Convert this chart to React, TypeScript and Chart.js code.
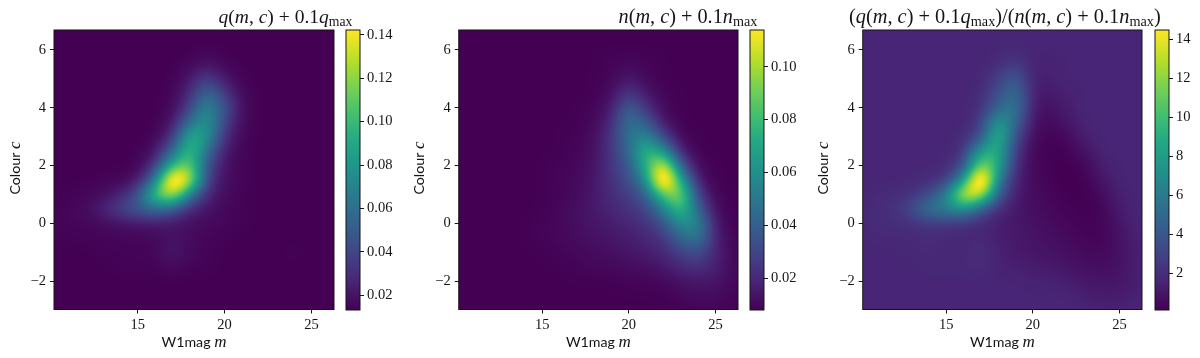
import React, { useEffect, useRef } from "react";
import { Chart, registerables } from "chart.js";
Chart.register(...registerables);

// ---------- data ----------
const massGrid = [10, 11, 12, 13, 14, 15, 16, 17, 18, 19, 20, 21, 22, 23, 24, 25, 26, 27];
const colourGrid = [7, 6.5, 6, 5.5, 5, 4.5, 4, 3.5, 3, 2.5, 2, 1.5, 1, 0.5, 0, -0.5, -1, -1.5, -2, -2.5, -3];
const massTicks = [15, 20, 25];
const colourTicks = [-2, 0, 2, 4, 6];

// q(m,c)+0.1qmax, in units of 0.001
const qValues = [
  [13, 13, 13, 13, 13, 13, 13, 13, 13, 13, 13, 13, 13, 13, 13, 13, 13, 13],
  [13, 13, 13, 13, 13, 13, 13, 13, 13, 13, 13, 13, 13, 13, 13, 13, 13, 13],
  [13, 13, 13, 13, 13, 13, 13, 13, 13, 14, 13, 13, 13, 13, 13, 13, 13, 13],
  [13, 13, 13, 13, 13, 13, 13, 13, 15, 20, 15, 13, 13, 13, 13, 13, 13, 13],
  [13, 13, 13, 13, 13, 13, 13, 13, 21, 38, 21, 14, 13, 13, 13, 13, 13, 13],
  [13, 13, 13, 13, 13, 13, 13, 14, 27, 60, 34, 15, 13, 13, 13, 13, 13, 13],
  [13, 13, 13, 13, 13, 13, 13, 15, 38, 78, 46, 17, 13, 13, 13, 13, 13, 13],
  [13, 13, 13, 13, 13, 13, 13, 19, 60, 84, 38, 16, 13, 13, 13, 13, 13, 13],
  [13, 13, 13, 13, 13, 13, 14, 30, 98, 82, 28, 15, 13, 13, 13, 13, 13, 13],
  [13, 13, 13, 13, 13, 13, 18, 55, 108, 60, 22, 14, 13, 13, 13, 13, 13, 13],
  [13, 13, 13, 13, 13, 14, 30, 100, 118, 42, 19, 14, 13, 13, 13, 13, 13, 13],
  [13, 13, 13, 14, 15, 19, 62, 175, 140, 35, 18, 14, 13, 13, 13, 13, 13, 13],
  [13, 14, 15, 17, 24, 44, 110, 140, 66, 26, 17, 14, 13, 13, 13, 13, 13, 13],
  [13, 15, 17, 25, 40, 50, 60, 48, 26, 20, 15, 14, 13, 13, 13, 13, 13, 13],
  [14, 15, 15, 17, 18, 20, 20, 20, 18, 16, 15, 14, 13, 13, 13, 13, 13, 13],
  [13, 14, 14, 14, 15, 15, 16, 20, 16, 15, 14, 13, 13, 13, 13, 13, 13, 13],
  [13, 13, 13, 14, 14, 14, 15, 22, 16, 14, 13, 13, 13, 13, 14, 13, 13, 13],
  [13, 13, 13, 13, 14, 14, 14, 17, 14, 14, 13, 13, 13, 13, 13, 13, 13, 13],
  [13, 13, 13, 13, 13, 13, 13, 13, 13, 13, 13, 13, 13, 13, 13, 13, 13, 13],
  [13, 13, 13, 13, 13, 13, 13, 13, 13, 13, 13, 13, 13, 13, 13, 13, 13, 13],
  [13, 13, 13, 13, 13, 13, 13, 13, 13, 13, 13, 13, 13, 13, 13, 13, 13, 13],
];

// n(m,c)+0.1nmax, in units of 0.001
const nValues = [
  [8, 8, 8, 8, 8, 8, 8, 8, 8, 8, 8, 8, 8, 8, 8, 8, 8, 8],
  [8, 8, 8, 8, 8, 8, 8, 8, 8, 8, 8, 8, 8, 8, 8, 8, 8, 8],
  [8, 8, 8, 8, 8, 8, 8, 8, 8, 8, 8, 8, 8, 8, 8, 8, 8, 8],
  [8, 8, 8, 8, 8, 8, 8, 8, 8, 9, 10, 9, 8, 8, 8, 8, 8, 8],
  [8, 8, 8, 8, 8, 8, 8, 8, 8, 9, 16, 10, 8, 8, 8, 8, 8, 8],
  [8, 8, 8, 8, 8, 8, 8, 8, 8, 11, 26, 14, 9, 8, 8, 8, 8, 8],
  [8, 8, 8, 8, 8, 8, 8, 8, 9, 15, 42, 23, 10, 8, 8, 8, 8, 8],
  [8, 8, 8, 8, 8, 8, 8, 8, 10, 19, 50, 38, 13, 8, 8, 8, 8, 8],
  [8, 8, 8, 8, 8, 8, 8, 9, 11, 24, 48, 60, 30, 9, 8, 8, 8, 8],
  [8, 8, 8, 8, 8, 8, 8, 9, 12, 24, 42, 82, 62, 16, 8, 8, 8, 8],
  [8, 8, 8, 8, 8, 8, 9, 10, 13, 24, 37, 75, 120, 36, 10, 8, 8, 8],
  [8, 8, 8, 8, 8, 8, 9, 10, 14, 23, 32, 58, 150, 70, 14, 8, 8, 8],
  [8, 8, 8, 8, 8, 8, 9, 11, 15, 21, 27, 38, 90, 100, 26, 9, 8, 8],
  [8, 8, 8, 8, 8, 8, 10, 12, 15, 19, 23, 29, 52, 88, 40, 11, 8, 8],
  [8, 8, 8, 8, 8, 9, 10, 12, 14, 16, 19, 23, 33, 62, 58, 14, 8, 8],
  [8, 8, 8, 8, 8, 9, 10, 11, 13, 14, 16, 19, 24, 42, 52, 17, 9, 8],
  [8, 8, 8, 8, 8, 8, 9, 10, 11, 12, 14, 16, 19, 28, 34, 18, 10, 8],
  [8, 8, 8, 8, 8, 8, 8, 9, 10, 10, 11, 12, 15, 19, 23, 17, 10, 8],
  [8, 8, 8, 8, 8, 8, 8, 8, 8, 8, 9, 9, 10, 13, 15, 14, 10, 8],
  [8, 8, 8, 8, 8, 8, 8, 8, 8, 8, 8, 8, 8, 10, 11, 11, 9, 8],
  [8, 8, 8, 8, 8, 8, 8, 8, 8, 8, 8, 8, 8, 8, 9, 9, 8, 8],
];

// (q+0.1qmax)/(n+0.1nmax)
const ratioValues = [
  [1.6, 1.6, 1.6, 1.6, 1.6, 1.6, 1.6, 1.6, 1.6, 1.6, 1.6, 1.6, 1.6, 1.6, 1.6, 1.6, 1.6, 1.6],
  [1.6, 1.6, 1.6, 1.6, 1.6, 1.6, 1.6, 1.6, 1.6, 1.6, 1.6, 1.6, 1.6, 1.6, 1.6, 1.6, 1.6, 1.6],
  [1.6, 1.6, 1.6, 1.6, 1.6, 1.6, 1.6, 1.6, 1.7, 1.8, 1.6, 1.6, 1.6, 1.6, 1.6, 1.6, 1.6, 1.6],
  [1.6, 1.6, 1.6, 1.6, 1.6, 1.6, 1.6, 1.6, 1.9, 2.6, 1.5, 1.4, 1.6, 1.6, 1.6, 1.6, 1.6, 1.6],
  [1.6, 1.6, 1.6, 1.6, 1.6, 1.6, 1.6, 1.6, 2.8, 4.5, 1.3, 1.4, 1.6, 1.6, 1.6, 1.6, 1.6, 1.6],
  [1.6, 1.6, 1.6, 1.6, 1.6, 1.6, 1.6, 1.75, 3.5, 5.6, 1.2, 1.1, 1.4, 1.6, 1.6, 1.6, 1.6, 1.6],
  [1.6, 1.6, 1.6, 1.6, 1.6, 1.6, 1.6, 1.9, 4.8, 6.2, 1.0, 0.7, 1.3, 1.6, 1.6, 1.6, 1.6, 1.6],
  [1.6, 1.6, 1.6, 1.6, 1.6, 1.6, 1.6, 2.4, 8.5, 5.0, 0.7, 0.4, 1.0, 1.6, 1.6, 1.6, 1.6, 1.6],
  [1.6, 1.6, 1.6, 1.6, 1.6, 1.6, 1.75, 3.2, 10.5, 3.2, 0.5, 0.2, 0.4, 1.44, 1.6, 1.6, 1.6, 1.6],
  [1.6, 1.6, 1.6, 1.6, 1.6, 1.6, 2.0, 8.5, 9.5, 2.3, 0.4, 0.12, 0.16, 0.8, 1.6, 1.6, 1.6, 1.6],
  [1.6, 1.6, 1.6, 1.6, 1.6, 1.75, 3.0, 12.5, 9.0, 1.7, 0.4, 0.12, 0.08, 0.3, 1.3, 1.6, 1.6, 1.6],
  [1.6, 1.6, 1.6, 1.7, 1.9, 2.4, 7.0, 20.0, 6.0, 1.4, 0.5, 0.2, 0.05, 0.12, 0.93, 1.6, 1.6, 1.6],
  [1.6, 1.75, 1.9, 2.1, 3.2, 6.0, 15.0, 14.0, 4.0, 1.2, 0.55, 0.3, 0.1, 0.08, 0.45, 1.4, 1.6, 1.6],
  [1.6, 1.9, 2.1, 3.3, 6.0, 6.5, 7.5, 4.0, 1.8, 1.05, 0.6, 0.42, 0.2, 0.1, 0.28, 1.2, 1.6, 1.6],
  [1.7, 1.9, 1.9, 2.1, 2.2, 2.3, 2.0, 1.7, 1.3, 1.0, 0.79, 0.55, 0.35, 0.16, 0.2, 0.93, 1.6, 1.6],
  [1.6, 1.75, 1.75, 1.75, 1.9, 1.7, 1.6, 1.8, 1.25, 1.07, 0.88, 0.7, 0.5, 0.3, 0.24, 0.76, 1.45, 1.6],
  [1.6, 1.6, 1.6, 1.75, 1.75, 1.75, 1.65, 2.1, 1.45, 1.15, 0.93, 0.8, 0.68, 0.45, 0.4, 0.76, 1.3, 1.6],
  [1.6, 1.6, 1.6, 1.6, 1.75, 1.75, 1.75, 1.9, 1.4, 1.4, 1.2, 1.1, 0.87, 0.68, 0.6, 0.8, 1.3, 1.6],
  [1.6, 1.6, 1.6, 1.6, 1.6, 1.6, 1.6, 1.6, 1.6, 1.6, 1.45, 1.45, 1.3, 1.0, 0.87, 0.93, 1.3, 1.6],
  [1.6, 1.6, 1.6, 1.6, 1.6, 1.6, 1.6, 1.6, 1.6, 1.6, 1.6, 1.6, 1.6, 1.3, 1.18, 1.18, 1.45, 1.6],
  [1.6, 1.6, 1.6, 1.6, 1.6, 1.6, 1.6, 1.6, 1.6, 1.6, 1.6, 1.6, 1.6, 1.6, 1.45, 1.45, 1.6, 1.6],
];

const qColourbarTicks = [0.02, 0.04, 0.06, 0.08, 0.1, 0.12, 0.14];
const nColourbarTicks = [0.02, 0.04, 0.06, 0.08, 0.1];
const ratioColourbarTicks = [2, 4, 6, 8, 10, 12, 14];

const qTitle = [["q", "i"], ["(", "r"], ["m", "i"], [", ", "r"], ["c", "i"], [") + 0.1", "r"], ["q", "i"], ["max", "s"]];
const nTitle = [["n", "i"], ["(", "r"], ["m", "i"], [", ", "r"], ["c", "i"], [") + 0.1", "r"], ["n", "i"], ["max", "s"]];
const ratioTitle = [
  ["(", "r"], ["q", "i"], ["(", "r"], ["m", "i"], [", ", "r"], ["c", "i"], [") + 0.1", "r"], ["q", "i"], ["max", "s"],
  [")/(", "r"], ["n", "i"], ["(", "r"], ["m", "i"], [", ", "r"], ["c", "i"], [") + 0.1", "r"], ["n", "i"], ["max", "s"], [")", "r"],
];
const xLabel = [["W1mag ", "l"], ["m", "li"]];
const yLabel = [["Colour ", "l"], ["c", "li"]];

const viridis = ["#440154", "#482475", "#414487", "#355f8d", "#2a788e", "#21918c", "#22a884", "#44bf70", "#7ad151", "#bddf26", "#fde725"];

// ---------- layout ----------
const INK = "#151515";
const SERIF = "'Liberation Serif'";
const SANS = "Lato";
const LABEL_SIZE = 14.2;
const massRange = [10.18, 26.3];
const colourRange = [-2.98, 6.69];

const panels = [
  { left: 0, axisLeft: 54, axisRight: 334, barLeft: 346, grid: qValues, scale: 0.001, min: 0.0131, max: 0.1423, ticks: qColourbarTicks, digits: 2, title: qTitle, titleRight: 352.5, titleWidth: 134 },
  { left: 400, axisLeft: 458.7, axisRight: 738, barLeft: 750.3, grid: nValues, scale: 0.001, min: 0.0079, max: 0.1139, ticks: nColourbarTicks, digits: 2, title: nTitle, titleRight: 757.5, titleWidth: 139 },
  { left: 800, axisLeft: 862.7, axisRight: 1142, barLeft: 1155, grid: ratioValues, scale: 1, min: 0.116, max: 14.48, ticks: ratioColourbarTicks, digits: 0, title: ratioTitle, titleRight: 1161, titleWidth: 312 },
];
const AXIS_TOP = 30;
const AXIS_BOTTOM = 309.5;

// ---------- helpers ----------
function hex(c: string) {
  return [1, 3, 5].map((i) => parseInt(c.slice(i, i + 2), 16));
}
const viridisRgb = viridis.map(hex);
function colourAt(t: number) {
  const f = Math.min(1, Math.max(0, t)) * (viridisRgb.length - 1);
  const i = Math.min(viridisRgb.length - 2, Math.floor(f));
  const u = f - i;
  return viridisRgb[i].map((a, k) => a + (viridisRgb[i + 1][k] - a) * u);
}
// smooth image-style resampling of the grid (cubic B-spline kernel)
function cubic(a: number, b: number, c: number, d: number, t: number) {
  const t2 = t * t;
  const t3 = t2 * t;
  return (
    (a * (1 - t) ** 3 + b * (4 - 6 * t2 + 3 * t3) + c * (1 + 3 * t + 3 * t2 - 3 * t3) + d * t3) / 6
  );
}
function sample(grid: number[][], m: number, c: number) {
  const fx = m - massGrid[0];
  const fy = (colourGrid[0] - c) / (colourGrid[0] - colourGrid[1]);
  const ix = Math.floor(fx);
  const iy = Math.floor(fy);
  const at = (x: number, y: number) =>
    grid[Math.min(grid.length - 1, Math.max(0, y))][Math.min(massGrid.length - 1, Math.max(0, x))];
  const rows = [-1, 0, 1, 2].map((j) =>
    cubic(at(ix - 1, iy + j), at(ix, iy + j), at(ix + 1, iy + j), at(ix + 2, iy + j), fx - ix)
  );
  return cubic(rows[0], rows[1], rows[2], rows[3], fy - iy);
}
function fontFor(kind: string, size: number) {
  if (kind === "i") return `italic ${size}px ${SERIF}`;
  if (kind === "r") return `${size}px ${SERIF}`;
  if (kind === "s") return `${size * 0.7}px ${SERIF}`;
  if (kind === "li") return `italic ${size * 1.2}px ${SERIF}`;
  return `${size}px ${SANS}`;
}
function measure(ctx: any, segs: string[][], size: number) {
  return segs.reduce((w, [t, k]) => {
    ctx.font = fontFor(k, size);
    return w + ctx.measureText(t).width;
  }, 0);
}
function drawSegs(ctx: any, segs: string[][], size: number, x: number) {
  ctx.fillStyle = INK;
  ctx.textAlign = "left";
  ctx.textBaseline = "alphabetic";
  let cx = x;
  for (const [t, k] of segs) {
    ctx.font = fontFor(k, size);
    ctx.fillText(t, cx, k === "s" ? size * 0.17 : 0);
    cx += ctx.measureText(t).width;
  }
}

function axisStyle() {
  return {
    grid: { drawOnChartArea: false, drawTicks: true, tickLength: 4, tickColor: INK, tickWidth: 1 },
    border: { display: false },
  };
}
const tickFont = { family: SERIF, size: 14.5 };
const minusLabel = (v: any) => (Number(v) < 0 ? "\u2212" + Math.abs(Number(v)) : String(v));

function heatChart(canvas: HTMLCanvasElement, p: any) {
  const yWidth = p.axisLeft - p.left;
  const plugin = {
    id: "heat",
    beforeDatasetsDraw(chart: any) {
      const { ctx, chartArea: a, scales } = chart;
      const L = Math.round(a.left);
      const T = Math.round(a.top);
      const w = Math.round(a.right) - L;
      const h = Math.round(a.bottom) - T;
      const img = ctx.createImageData(w, h);
      for (let py = 0; py < h; py++) {
        const c = scales.y.getValueForPixel(T + py + 0.5);
        for (let px = 0; px < w; px++) {
          const m = scales.x.getValueForPixel(L + px + 0.5);
          const v = sample(p.grid, m, c) * p.scale;
          const rgb = colourAt((v - p.min) / (p.max - p.min));
          const o = (py * w + px) * 4;
          img.data[o] = rgb[0];
          img.data[o + 1] = rgb[1];
          img.data[o + 2] = rgb[2];
          img.data[o + 3] = 255;
        }
      }
      ctx.putImageData(img, L, T);
    },
    afterDraw(chart: any) {
      const { ctx, chartArea: a } = chart;
      ctx.save();
      ctx.strokeStyle = INK;
      ctx.lineWidth = 1;
      ctx.strokeRect(a.left, a.top, a.right - a.left, a.bottom - a.top);
      // title
      const base = measure(ctx, p.title, 20);
      const size = (20 * p.titleWidth) / base;
      ctx.save();
      ctx.translate(p.titleRight - p.left - p.titleWidth, 23);
      drawSegs(ctx, p.title, size, 0);
      ctx.restore();
      // axis labels
      const lw = measure(ctx, xLabel, LABEL_SIZE);
      ctx.save();
      ctx.translate((a.left + a.right) / 2 - lw / 2, 346.5);
      drawSegs(ctx, xLabel, LABEL_SIZE, 0);
      ctx.restore();
      const lh = measure(ctx, yLabel, LABEL_SIZE);
      ctx.save();
      ctx.translate(a.left - 34.5, 168 + lh / 2);
      ctx.rotate(-Math.PI / 2);
      drawSegs(ctx, yLabel, LABEL_SIZE, 0);
      ctx.restore();
      ctx.restore();
    },
  };
  return new Chart(canvas, {
    type: "scatter",
    data: {
      datasets: [
        {
          data: p.grid.flatMap((row: number[], j: number) =>
            row.map((v, i) => ({ x: massGrid[i], y: colourGrid[j], v: v * p.scale }))
          ),
          pointRadius: 0,
          pointHoverRadius: 0,
        },
      ],
    },
    options: {
      animation: false,
      responsive: false,
      events: [],
      layout: { autoPadding: false, padding: { left: 0, top: AXIS_TOP, right: p.left + 400 - p.axisRight, bottom: 0 } },
      plugins: { legend: { display: false }, tooltip: { enabled: false }, title: { display: false } },
      scales: {
        x: {
          type: "linear",
          min: massRange[0],
          max: massRange[1],
          ...axisStyle(),
          afterBuildTicks: (s: any) => {
            s.ticks = massTicks.map((value) => ({ value }));
          },
          afterFit: (s: any) => {
            s.height = 358 - AXIS_BOTTOM;
          },
          ticks: { font: tickFont, color: INK, padding: 3, maxRotation: 0, callback: minusLabel },
        },
        y: {
          type: "linear",
          min: colourRange[0],
          max: colourRange[1],
          ...axisStyle(),
          afterBuildTicks: (s: any) => {
            s.ticks = colourTicks.map((value) => ({ value }));
          },
          afterFit: (s: any) => {
            s.width = yWidth;
          },
          ticks: { font: tickFont, color: INK, padding: 4, callback: minusLabel },
        },
      },
    } as any,
    plugins: [plugin],
  } as any);
}

function barChart(canvas: HTMLCanvasElement, p: any) {
  const plugin = {
    id: "bar",
    beforeDatasetsDraw(chart: any) {
      const { ctx, chartArea: a, scales } = chart;
      const top = Math.round(a.top);
      const bottom = Math.round(a.bottom);
      for (let py = top; py < bottom; py++) {
        const v = scales.y.getValueForPixel(py + 0.5);
        const rgb = colourAt((v - p.min) / (p.max - p.min));
        ctx.fillStyle = `rgb(${rgb[0]},${rgb[1]},${rgb[2]})`;
        ctx.fillRect(a.left, py, a.right - a.left, 1);
      }
    },
    afterDraw(chart: any) {
      const { ctx, chartArea: a } = chart;
      ctx.save();
      ctx.strokeStyle = INK;
      ctx.lineWidth = 1;
      ctx.strokeRect(a.left, a.top, a.right - a.left, a.bottom - a.top);
      ctx.restore();
    },
  };
  return new Chart(canvas, {
    type: "scatter",
    data: { datasets: [{ data: [{ x: 0, y: p.min }, { x: 1, y: p.max }], pointRadius: 0 }] },
    options: {
      animation: false,
      responsive: false,
      events: [],
      layout: { autoPadding: false, padding: { left: 2, top: AXIS_TOP, right: 0, bottom: 48 } },
      plugins: { legend: { display: false }, tooltip: { enabled: false } },
      scales: {
        x: { type: "linear", display: false, min: 0, max: 1 },
        y: {
          type: "linear",
          position: "right",
          min: p.min,
          max: p.max,
          ...axisStyle(),
          afterBuildTicks: (s: any) => {
            s.ticks = p.ticks.map((value: number) => ({ value }));
          },
          afterFit: (s: any) => {
            s.width = 44;
          },
          ticks: {
            font: tickFont,
            color: INK,
            padding: 3,
            callback: (v: any) => Number(v).toFixed(p.digits),
          },
        },
      },
    } as any,
    plugins: [plugin],
  } as any);
}

export default function App() {
  const heatRefs = useRef<(HTMLCanvasElement | null)[]>([]);
  const barRefs = useRef<(HTMLCanvasElement | null)[]>([]);
  useEffect(() => {
    const charts = panels.flatMap((p, i) => [
      heatChart(heatRefs.current[i]!, p),
      barChart(barRefs.current[i]!, p),
    ]);
    return () => charts.forEach((c) => c.destroy());
  }, []);
  return (
    <div style={{ position: "absolute", left: 0, top: 0, width: 1200, height: 358, overflow: "hidden", background: "#fff" }}>
      {panels.map((p, i) => (
        <React.Fragment key={i}>
          <canvas
            ref={(el) => {
              heatRefs.current[i] = el;
            }}
            width={400}
            height={358}
            style={{ position: "absolute", left: p.left, top: 0, width: 400, height: 358 }}
          />
          <canvas
            ref={(el) => {
              barRefs.current[i] = el;
            }}
            width={60}
            height={358}
            style={{ position: "absolute", left: p.barLeft - 2, top: 0, width: 60, height: 358 }}
          />
        </React.Fragment>
      ))}
    </div>
  );
}
